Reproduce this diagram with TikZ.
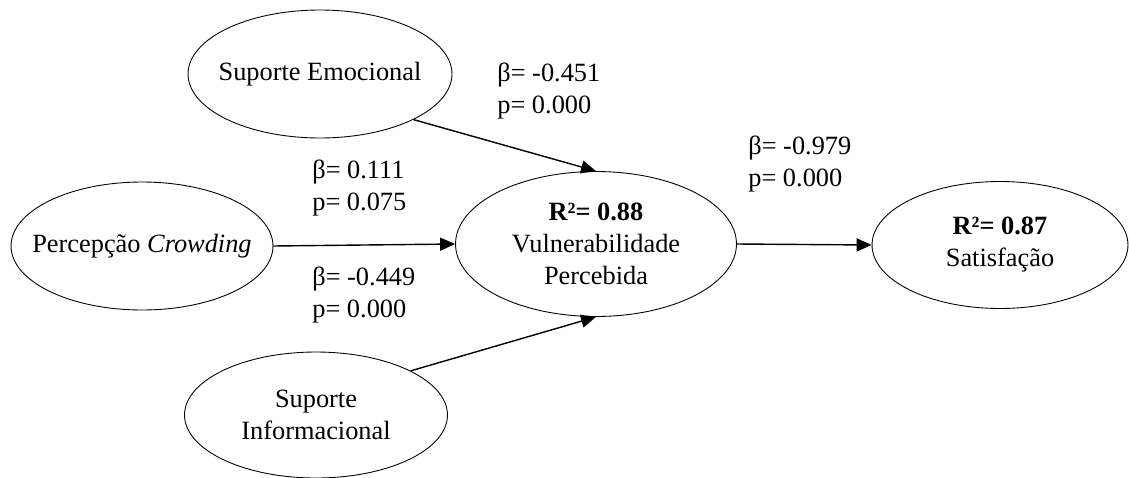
\documentclass[tikz,border=0pt]{standalone}
\usepackage{fontspec}
\setmainfont{Liberation Serif}
\usetikzlibrary{positioning,arrows.meta,shapes.geometric}

\begin{document}
\begin{tikzpicture}[x=0.02cm, y=-0.02cm,
  every node/.style={font=\fontsize{15}{18.2}\selectfont},
  construct/.style={draw, ellipse, line width=0.5pt, inner xsep=-16pt, inner ysep=-8pt, align=center},
  coef/.style={anchor=west, align=left, inner sep=0pt},
  arr/.style={-{Triangle[length=8.5pt, width=7.4pt]}, line width=0.8pt}
]
\useasboundingbox (0,0) rectangle (1129,477);

\node[construct, minimum width=5.28cm, minimum height=2.56cm] (se)  at (320, 74)   {Suporte Emocional};
\node[construct, minimum width=5.24cm, minimum height=2.56cm] (pc)  at (142, 246)  {Percepção \textit{Crowding}};
\node[construct, minimum width=5.26cm, minimum height=2.52cm] (si)  at (316, 415)  {Suporte\\Informacional};
\node[construct, minimum width=5.62cm, minimum height=2.90cm] (vp)  at (596, 244)  {\textbf{R²= 0.88}\\Vulnerabilidade\\Percebida};
\node[construct, minimum width=5.12cm, minimum height=2.54cm] (sat) at (1000, 245) {\textbf{R²= 0.87}\\Satisfação};

\node[coef] (cse) at (497, 91)  {β= -0.451\\p= 0.000};
\node[coef] (cpc) at (312, 188) {β= 0.111\\p= 0.075};
\node[coef] (csi) at (312, 295) {β= -0.449\\p= 0.000};
\node[coef] (cvp) at (748, 164) {β= -0.979\\p= 0.000};

\draw[arr] (se.-26) -- (vp.north);
\draw[arr] (pc.east) -- (vp.west);
\draw[arr] (si.25) -- (vp.south);
\draw[arr] (vp.east) -- (sat.west);

\end{tikzpicture}
\end{document}
